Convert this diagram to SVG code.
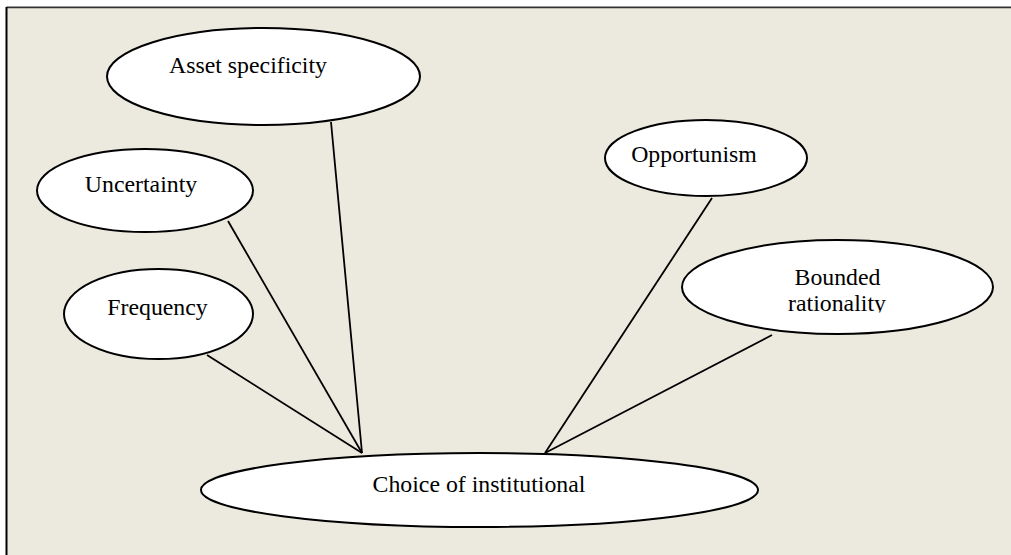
<svg xmlns="http://www.w3.org/2000/svg" width="1011" height="555" viewBox="0 0 1011 555">
<defs>
<style>
.node ellipse{fill:#ffffff;stroke:#000000;stroke-width:2}
.node text{font-family:"Liberation Serif","Times New Roman",serif;font-size:23.8px;fill:#000000;text-anchor:middle}
.conn line{stroke:#000000;stroke-width:1.8}
</style>
<clipPath id="clipBR"><rect x="680" y="240" width="320" height="72.5"/></clipPath>
</defs>
<rect x="0" y="0" width="1011" height="555" fill="#ffffff"/>
<rect x="6.5" y="8" width="1020" height="560" fill="#ECEADF"/>
<line x1="6.5" y1="7.5" x2="1011" y2="7.5" stroke="#333333" stroke-width="1.5"/>
<line x1="6.5" y1="6.5" x2="1011" y2="6.5" stroke="#999999" stroke-width="1"/>
<line x1="6.5" y1="7" x2="6.5" y2="555" stroke="#000000" stroke-width="2"/>
<g id="connectors" class="conn">
<line x1="331" y1="122" x2="362" y2="453"/>
<line x1="228" y1="221" x2="362" y2="453"/>
<line x1="207" y1="355" x2="362" y2="453"/>
<line x1="712" y1="198" x2="545" y2="453"/>
<line x1="772" y1="335" x2="545" y2="453"/>
</g>
<g id="asset-specificity" class="node">
<ellipse cx="263.5" cy="76.5" rx="156.5" ry="48.5"/>
<text x="248" y="73">Asset specificity</text>
</g>
<g id="uncertainty" class="node">
<ellipse cx="145" cy="190.5" rx="108" ry="41.5"/>
<text x="141" y="192">Uncertainty</text>
</g>
<g id="frequency" class="node">
<ellipse cx="158.5" cy="314" rx="94.5" ry="45"/>
<text x="157.5" y="315">Frequency</text>
</g>
<g id="opportunism" class="node">
<ellipse cx="706" cy="158" rx="101" ry="38"/>
<text x="694" y="162">Opportunism</text>
</g>
<g id="bounded-rationality" class="node">
<ellipse cx="837.5" cy="287" rx="155.5" ry="47"/>
<text x="837.5" y="285">Bounded</text>
<text x="837" y="311" clip-path="url(#clipBR)">rationality</text>
</g>
<g id="choice-of-institutional" class="node">
<ellipse cx="479.5" cy="490" rx="278.5" ry="37"/>
<text x="479" y="492">Choice of institutional</text>
</g>
</svg>
